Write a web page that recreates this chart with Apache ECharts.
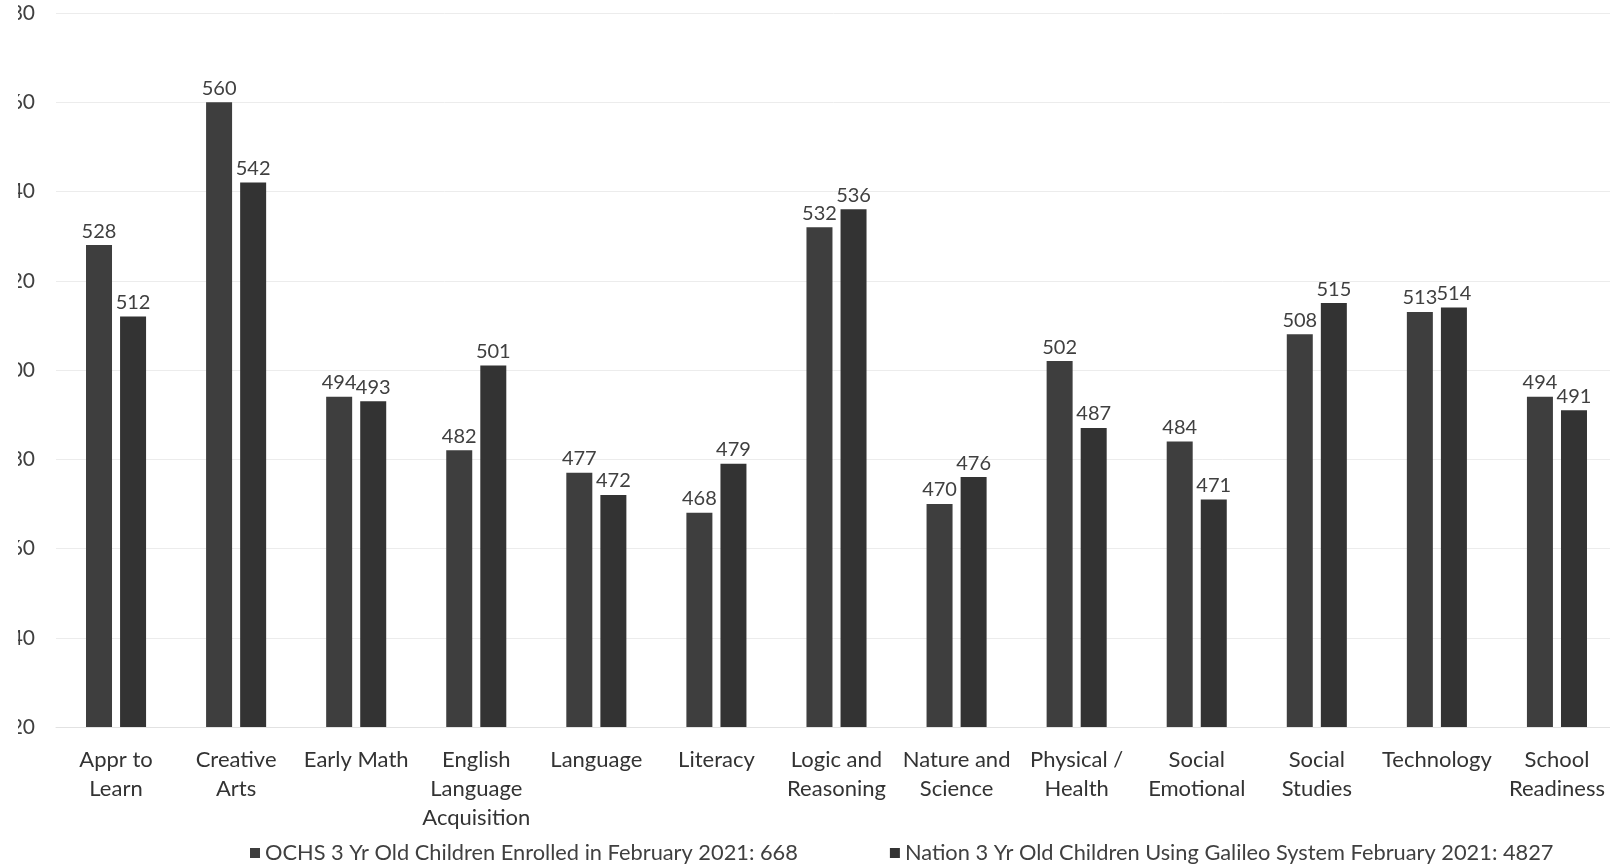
<!DOCTYPE html>
<html>
<head>
<meta charset="utf-8">
<script src="https://cdn.jsdelivr.net/npm/echarts@6/dist/echarts.min.js"></script>
<style>
  html, body { margin: 0; padding: 0; background: #ffffff; }
  #chart { width: 1610px; height: 868px; }
</style>
</head>
<body>
<div id="chart"></div>
<script>
// Domain areas (line breaks follow the wrapped axis labels)
const categories = [
  'Appr to\nLearn', 'Creative\nArts', 'Early Math', 'English\nLanguage\nAcquisition',
  'Language', 'Literacy', 'Logic and\nReasoning', 'Nature and\nScience',
  'Physical /\nHealth', 'Social\nEmotional', 'Social\nStudies', 'Technology',
  'School\nReadiness'
];

// Mean scale scores per domain
const ochsScores   = [528, 560, 494, 482, 477, 468, 532, 470, 502, 484, 508, 513, 494];
const nationScores = [512, 542, 493, 501, 472, 479, 536, 476, 487, 471, 515, 514, 491];

const seriesNames = [
  'OCHS 3 Yr Old Children Enrolled in February 2021: 668',
  'Nation 3 Yr Old Children Using Galileo System February 2021: 4827'
];

// Value axis range
const yMin = 420;
const yMax = 580;
const yStep = 20;

const FONT = 'Lato, "Open Sans", sans-serif';
const chart = echarts.init(document.getElementById('chart'));

const labelStyle = {
  show: true,
  position: 'top',
  distance: 4,
  color: '#404040',
  fontFamily: FONT,
  fontSize: 20
};

chart.setOption({
  backgroundColor: '#ffffff',
  animation: false,
  grid: {
    left: 56, right: -7, top: 13, bottom: 141,
    containLabel: false,
    outerBoundsMode: 'none'
  },
  // page edge trims the left part of the value labels
  graphic: [{
    type: 'rect',
    left: 0,
    top: 0,
    z: 100,
    shape: { width: 18, height: 760 },
    style: { fill: '#ffffff' },
    silent: true
  }],
  legend: {
    left: 245,
    top: 837,
    itemWidth: 10,
    itemHeight: 10,
    itemGap: 92,
    icon: 'rect',
    textStyle: { color: '#404040', fontFamily: FONT, fontSize: 21.8 },
    data: seriesNames
  },
  xAxis: {
    type: 'category',
    data: categories,
    axisLine: { show: true, lineStyle: { color: '#e2e2e2', width: 1 } },
    axisTick: { show: false },
    axisLabel: {
      color: '#333333',
      fontFamily: FONT,
      fontSize: 22,
      lineHeight: 29,
      margin: 18,
      interval: 0
    }
  },
  yAxis: {
    type: 'value',
    min: yMin,
    max: yMax,
    interval: yStep,
    axisLine: { show: false },
    axisTick: { show: false },
    axisLabel: {
      color: '#404040',
      fontFamily: FONT,
      fontSize: 21,
      margin: 21
    },
    splitLine: { show: true, lineStyle: { color: '#ececec', width: 1 } }
  },
  series: [
    {
      name: seriesNames[0],
      type: 'bar',
      data: ochsScores,
      barWidth: 26,
      barGap: '31%',
      itemStyle: { color: '#3e3e3e' },
      label: labelStyle
    },
    {
      name: seriesNames[1],
      type: 'bar',
      data: nationScores,
      barWidth: 26,
      itemStyle: { color: '#333333' },
      label: labelStyle
    }
  ]
});
</script>
</body>
</html>
